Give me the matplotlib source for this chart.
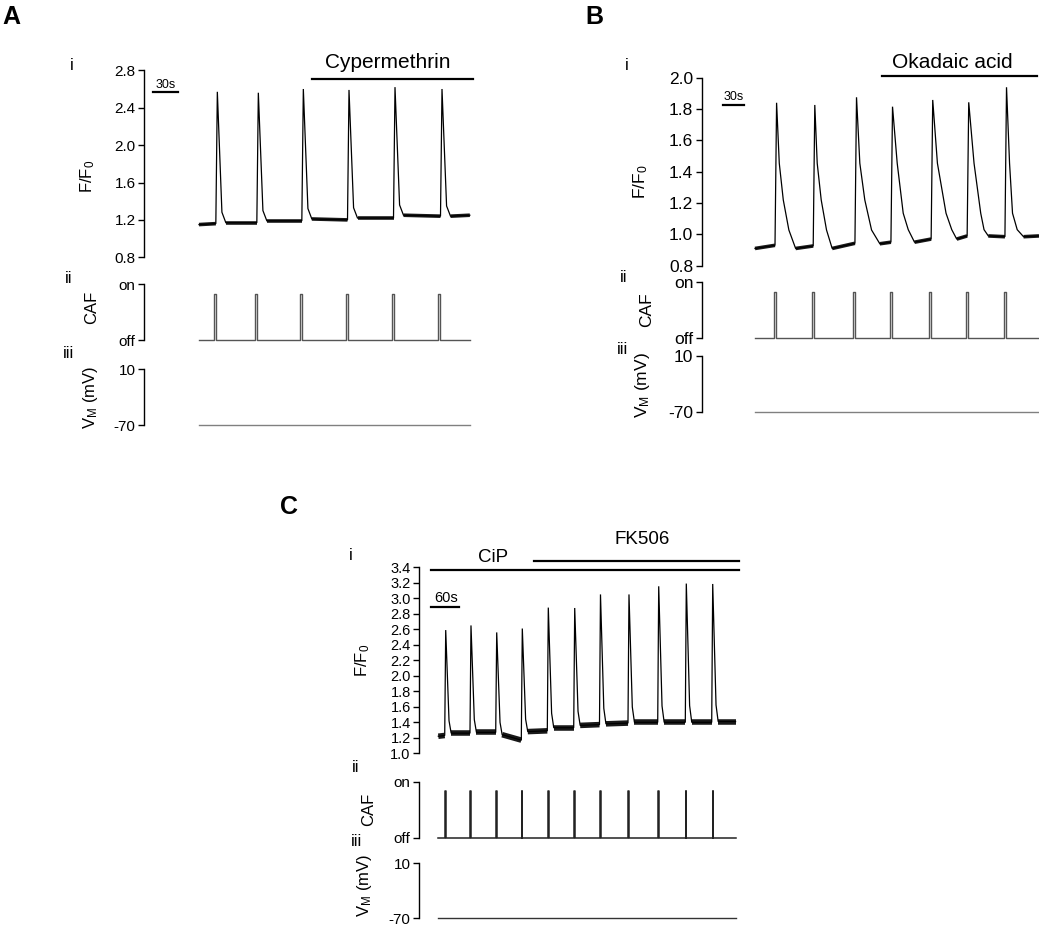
import matplotlib
matplotlib.use('Agg')
import matplotlib.pyplot as plt

plt.rcParams['font.family'] = ['Liberation Sans', 'DejaVu Sans']
plt.rcParams['mathtext.fontset'] = 'custom'
plt.rcParams['mathtext.rm'] = 'Liberation Sans'
plt.rcParams['mathtext.it'] = 'Liberation Sans:italic'
plt.rcParams['mathtext.bf'] = 'Liberation Sans:bold'

# ---------------- data (times in s from start of each recording) ----------------
# Panel A (Cypermethrin)
A_peak_t = [22.0, 71.2, 125.2, 180.0, 235.2, 291.6]
A_peak_v = [2.57, 2.56, 2.60, 2.59, 2.62, 2.60]
A_base_pre = [1.16, 1.17, 1.19, 1.20, 1.22, 1.24]
A_base_post = [1.17, 1.19, 1.21, 1.22, 1.25, 1.24]
A_start_v, A_end_v, A_end_t = 1.15, 1.25, 325.0
A_rise = 1.8
A_decay_dt = [5.5, 10.2]
A_decay_frac = [0.08, 0.0]
A_caf_t = [17.6, 66.8, 121.2, 176.4, 231.6, 286.4]
A_caf_w = 2.4
A_drug = ("Cypermethrin", 135.6, 328.8)
A_yticks = [0.8, 1.2, 1.6, 2.0, 2.4, 2.8]

# Panel B (Okadaic acid)
B_peak_t = [31.3, 86.7, 147.2, 199.4, 257.7, 309.9, 364.7]
B_peak_v = [1.84, 1.826, 1.875, 1.815, 1.858, 1.843, 1.939]
B_base_pre = [0.93, 0.926, 0.943, 0.95, 0.97, 0.99, 0.985]
B_start_v, B_end_v, B_end_t = 0.91, 0.99, 411.8
B_rise = 2.3
B_decay_dt = [[3.9, 9.7, 17.8, 27.6],
              [3.5, 9.3, 17.0, 25.2],
              [4.8, 12.0, 21.8, 33.8],
              [6.8, 15.5, 22.8, 31.9],
              [6.8, 19.3, 27.6, 34.8],
              [7.7, 17.4, 22.2, 28.4],
              [4.4, 8.7, 15.5, 24.7]]
B_decay_v = [[1.454, 1.22, 1.028, 0.91],
             [1.454, 1.22, 1.028, 0.91],
             [1.454, 1.22, 1.028, 0.94],
             [1.454, 1.135, 1.03, 0.95],
             [1.454, 1.135, 1.03, 0.97],
             [1.454, 1.135, 1.03, 0.99],
             [1.454, 1.135, 1.03, 0.985]]
B_caf_t = [28.0, 83.1, 142.5, 195.3, 252.7, 305.9, 361.4]
B_caf_w = 2.9
B_drug = ("Okadaic acid", 183.7, 409.3)
B_yticks = [0.8, 1.0, 1.2, 1.4, 1.6, 1.8, 2.0]

# Panel C (CiP then FK506)
C_peak_t = [16.3, 71.9, 128.5, 184.8, 242.0, 300.1, 356.8, 419.5, 484.9, 545.6, 603.7]
C_peak_v = [2.59, 2.65, 2.56, 2.61, 2.88, 2.875, 3.05, 3.05, 3.155, 3.19, 3.185]
C_base_pre = [1.23, 1.26, 1.27, 1.17, 1.29, 1.33, 1.37, 1.39, 1.40, 1.40, 1.40]
C_base_post = [1.26, 1.27, 1.24, 1.28, 1.33, 1.36, 1.38, 1.40, 1.40, 1.40, 1.41]
C_start_v, C_end_v, C_end_t = 1.22, 1.41, 654.0
C_rise = 2.2
C_decay_dt = [7.3, 12.0]
C_decay_frac = [0.12, 0.0]
C_caf_t = [14.7, 69.7, 127.6, 183.5, 241.3, 298.5, 355.7, 417.3, 483.3, 544.3, 603.5]
C_caf_w = 1.5
C_drug1 = ("CiP", -15.4, 660.9)
C_drug2 = ("FK506", 211.2, 660.9)
C_yticks = [1.0, 1.2, 1.4, 1.6, 1.8, 2.0, 2.2, 2.4, 2.6, 2.8, 3.0, 3.2, 3.4]

CAF_LEVEL = 0.83

# ---------------- layout helpers ----------------
W, H = 1039, 927
fig = plt.figure(figsize=(W / 100, H / 100), dpi=100)


def make_ax(x0, x1, ytop, ybot, t0px, spp, ylim, yticks, ylabels, fs):
    ax = fig.add_axes([x0 / W, 1 - ybot / H, (x1 - x0) / W, (ybot - ytop) / H])
    for s in ['top', 'right', 'bottom']:
        ax.spines[s].set_visible(False)
    ax.spines['left'].set_linewidth(1.0)
    ax.set_xlim((x0 - t0px) * spp, (x1 - t0px) * spp)
    ax.set_ylim(*ylim)
    ax.set_yticks(yticks)
    ax.set_yticklabels(ylabels, fontsize=fs)
    ax.tick_params(axis='y', direction='out', length=4, width=1.0, pad=2)
    ax.set_xticks([])
    ax.patch.set_alpha(0)
    return ax


def ftext(px, py, s, **kw):
    fig.text(px / W, 1 - py / H, s, ha='center', va='center', **kw)


def build(start_v, peak_t, peak_v, pre_v, rise, dts, vals, end_t, end_v):
    t, v = [0.0], [start_v]
    segs = []
    seg_start = (0.0, start_v)
    for i in range(len(peak_t)):
        on = peak_t[i] - rise
        segs.append(([seg_start[0], on], [seg_start[1], pre_v[i]]))
        t += [on, peak_t[i]] + [peak_t[i] + d for d in dts[i]]
        v += [pre_v[i], peak_v[i]] + list(vals[i])
        seg_start = (peak_t[i] + dts[i][-1], vals[i][-1])
    segs.append(([seg_start[0], end_t], [seg_start[1], end_v]))
    t.append(end_t)
    v.append(end_v)
    return t, v, segs


def draw_trace(ax, t, v, segs, noise_lw):
    ax.plot(t, v, color='black', lw=0.9, clip_on=False, solid_joinstyle='miter')
    for st, sv in segs:
        ax.plot(st, sv, color='black', lw=noise_lw, alpha=0.9, clip_on=False,
                solid_capstyle='butt')


def draw_caf(ax, starts, w, end_t, color, lw):
    t, v = [0.0], [0.0]
    for s in starts:
        t += [s, s, s + w, s + w]
        v += [0.0, CAF_LEVEL, CAF_LEVEL, 0.0]
    t.append(end_t)
    v.append(0.0)
    ax.plot(t, v, color=color, lw=lw, clip_on=False)


def draw_vm(ax, end_t):
    ax.plot([0.0, end_t], [-70, -70], color='#808080', lw=1.0, clip_on=False)


def fmt(ticks):
    return ['%.1f' % x for x in ticks]


FL = 'F/F$_\\mathregular{0}$'
VL = 'V$_\\mathregular{M}$ (mV)'

# ---------------- Panel A ----------------
A_t0, A_spp = 199.0, 1.2
axA1 = make_ax(144, 475, 70.3, 257.3, A_t0, A_spp, (0.8, 2.8), A_yticks, fmt(A_yticks), 11)
axA2 = make_ax(144, 475, 284.3, 340.3, A_t0, A_spp, (0, 1), [0, 1], ['off', 'on'], 11)
axA3 = make_ax(144, 475, 369.3, 425.0, A_t0, A_spp, (-70, 10), [-70, 10], ['-70', '10'], 11)

A_vals = [[A_base_post[i] + f * (A_peak_v[i] - A_base_post[i]) for f in A_decay_frac]
          for i in range(len(A_peak_t))]
tA, vA, sA = build(A_start_v, A_peak_t, A_peak_v, A_base_pre, A_rise,
                   [A_decay_dt] * len(A_peak_t), A_vals, A_end_t, A_end_v)
draw_trace(axA1, tA, vA, sA, 2.6)
draw_caf(axA2, A_caf_t, A_caf_w, A_end_t, '#555555', 1.0)
draw_vm(axA3, A_end_t)
axA1.plot([A_drug[1], A_drug[2]], [2.71, 2.71], color='black', lw=1.6, clip_on=False)
axA1.plot([-55.2, -25.2], [2.565, 2.565], color='black', lw=1.6, clip_on=False)
ftext(388, 62, A_drug[0], fontsize=15)
ftext(166, 85, '30s', fontsize=9)
ftext(11, 17, 'A', fontsize=18, fontweight='bold')
ftext(72, 66, 'i', fontsize=12)
ftext(69, 278, 'ii', fontsize=12)
ftext(68, 353, 'iii', fontsize=12)
ftext(88, 176, FL, fontsize=12, rotation=90)
ftext(92, 307, 'CAF', fontsize=12, rotation=90)
ftext(90, 397, VL, fontsize=12, rotation=90)

# ---------------- Panel B ----------------
B_t0, B_spp = 755.0, 1.45
axB1 = make_ax(701.7, 1039, 77.7, 265.7, B_t0, B_spp, (0.8, 2.0), B_yticks, fmt(B_yticks), 12.5)
axB2 = make_ax(701.7, 1039, 282.3, 338.3, B_t0, B_spp, (0, 1), [0, 1], ['off', 'on'], 12.5)
axB3 = make_ax(701.7, 1039, 356.0, 411.7, B_t0, B_spp, (-70, 10), [-70, 10], ['-70', '10'], 12.5)

tB, vB, sB = build(B_start_v, B_peak_t, B_peak_v, B_base_pre, B_rise,
                   B_decay_dt, B_decay_v, B_end_t, B_end_v)
draw_trace(axB1, tB, vB, sB, 2.6)
draw_caf(axB2, B_caf_t, B_caf_w, B_end_t, '#555555', 1.0)
draw_vm(axB3, B_end_t)
axB1.plot([B_drug[1], B_drug[2]], [2.011, 2.011], color='black', lw=1.6, clip_on=False)
axB1.plot([-46.0, -16.0], [1.826, 1.826], color='black', lw=1.6, clip_on=False)
ftext(952, 62, B_drug[0], fontsize=15)
ftext(733.7, 97.5, '30s', fontsize=9)
ftext(594, 16.5, 'B', fontsize=18, fontweight='bold')
ftext(627, 66, 'i', fontsize=12)
ftext(624, 277, 'ii', fontsize=12)
ftext(622, 350, 'iii', fontsize=12)
ftext(641, 182, FL, fontsize=12.5, rotation=90)
ftext(647, 310, 'CAF', fontsize=12.5, rotation=90)
ftext(642, 385, VL, fontsize=12.5, rotation=90)

# ---------------- Panel C ----------------
C_t0, C_spp = 438.3, 2.2
axC1 = make_ax(419, 740, 567.3, 753.3, C_t0, C_spp, (1.0, 3.4), C_yticks, fmt(C_yticks), 10.5)
axC2 = make_ax(419, 740, 781.7, 837.7, C_t0, C_spp, (0, 1), [0, 1], ['off', 'on'], 11)
axC3 = make_ax(419, 740, 863.3, 918.0, C_t0, C_spp, (-70, 10), [-70, 10], ['-70', '10'], 11)

C_vals = [[C_base_post[i] + f * (C_peak_v[i] - C_base_post[i]) for f in C_decay_frac]
          for i in range(len(C_peak_t))]
tC, vC, sC = build(C_start_v, C_peak_t, C_peak_v, C_base_pre, C_rise,
                   [C_decay_dt] * len(C_peak_t), C_vals, C_end_t, C_end_v)
draw_trace(axC1, tC, vC, sC, 4.0)
draw_caf(axC2, C_caf_t, C_caf_w, C_end_t, '#222222', 1.1)
draw_vm(axC3, C_end_t)
axC3.lines[-1].set_color('#333333')
axC1.plot([C_drug1[1], C_drug1[2]], [3.365, 3.365], color='black', lw=1.6, clip_on=False)
axC1.plot([C_drug2[1], C_drug2[2]], [3.485, 3.485], color='black', lw=1.6, clip_on=False)
axC1.plot([-15.4, 44.6], [2.89, 2.89], color='black', lw=1.6, clip_on=False)
ftext(493, 558, C_drug1[0], fontsize=13.5)
ftext(642, 540, C_drug2[0], fontsize=13.5)
ftext(445.7, 598, '60s', fontsize=10.5)
ftext(289, 506.5, 'C', fontsize=18, fontweight='bold')
ftext(351, 555, 'i', fontsize=12)
ftext(356, 767, 'ii', fontsize=12)
ftext(356, 842, 'iii', fontsize=12)
ftext(363, 660, FL, fontsize=12, rotation=90)
ftext(369, 809, 'CAF', fontsize=12, rotation=90)
ftext(365, 885, VL, fontsize=12, rotation=90)

fig.savefig('out.png', dpi=100)
